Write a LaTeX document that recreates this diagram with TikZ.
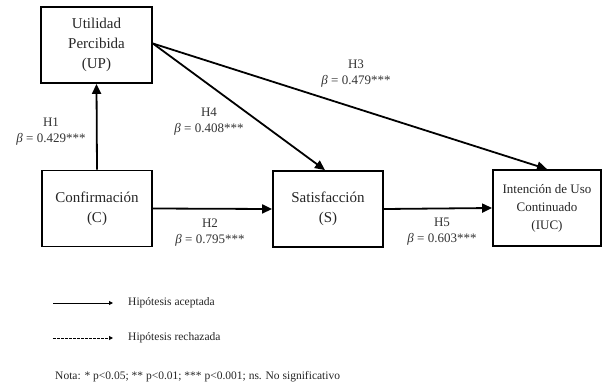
\documentclass[tikz,border=0pt]{standalone}
\usepackage{fontspec}
\setmainfont{Liberation Serif}
\usetikzlibrary{arrows.meta}
\begin{document}
\begin{tikzpicture}[x=1pt,y=-1pt,
  box/.style={draw, line width=1.8pt, inner sep=0pt, align=center, text=black!85,
    minimum width=110pt, minimum height=76pt, font=\fontsize{15}{20}\selectfont},
  lab/.style={align=center, inner sep=0pt, text=black!80, font=\fontsize{13}{16}\selectfont},
  arr/.style={line width=1.8pt, -{Triangle[length=10pt,width=9pt]}},
  legarr/.style={line width=1pt, -{Triangle[length=4pt,width=4pt]}},
  legtxt/.style={anchor=west, inner sep=0pt, text=black!85, font=\fontsize{11.5}{13}\selectfont}]
\useasboundingbox (0,0) rectangle (603,383);
\fill[white] (0,0) rectangle (603,383);

\node[box, minimum width=111pt] (UP) at (96.5,45) {Utilidad\\Percibida\\(UP)};
\node[box] (C) at (97,208.5) {Confirmación\\(C)};
\node[box] (S) at (328,209) {Satisfacción\\(S)};
\node[box, minimum width=108pt, font=\fontsize{13}{18}\selectfont] (IUC) at (547,208) {Intención de Uso\\Continuado\\(IUC)};

\draw[arr] (C.north) -- (UP.south);
\draw[arr] (C.east) -- (S.west);
\draw[arr] (S.east) -- (IUC.west);
\draw[arr] ([yshift=1.5pt]UP.east) -- ([xshift=-3pt]S.north);
\draw[arr] ([yshift=1.5pt]UP.east) -- (IUC.north);

\node[lab] (l1) at (51,132) {H1\\{\itshape β} = 0.429***};
\node[lab] (l4) at (209,122) {H4\\{\itshape β} = 0.408***};
\node[lab] (l3) at (356,74) {H3\\{\itshape β} = 0.479***};
\node[lab] (l2) at (210,232.5) {H2\\{\itshape β} = 0.795***};
\node[lab] (l5) at (442,232) {H5\\{\itshape β} = 0.603***};

\coordinate (a1) at (53,303);
\coordinate (a2) at (113,303);
\coordinate (b1) at (53,338);
\coordinate (b2) at (113,338);
\draw[legarr] (a1) -- (a2);
\draw[legarr, dash pattern=on 2.5pt off 1.5pt] (b1) -- (b2);
\node[legtxt] (t1) at (128,303) {Hipótesis aceptada};
\node[legtxt] (t2) at (128,338) {Hipótesis rechazada};
\node[legtxt] (t3) at (55,377) {Nota: * p<0.05; ** p<0.01; *** p<0.001; ns. No significativo};
\end{tikzpicture}
\end{document}
